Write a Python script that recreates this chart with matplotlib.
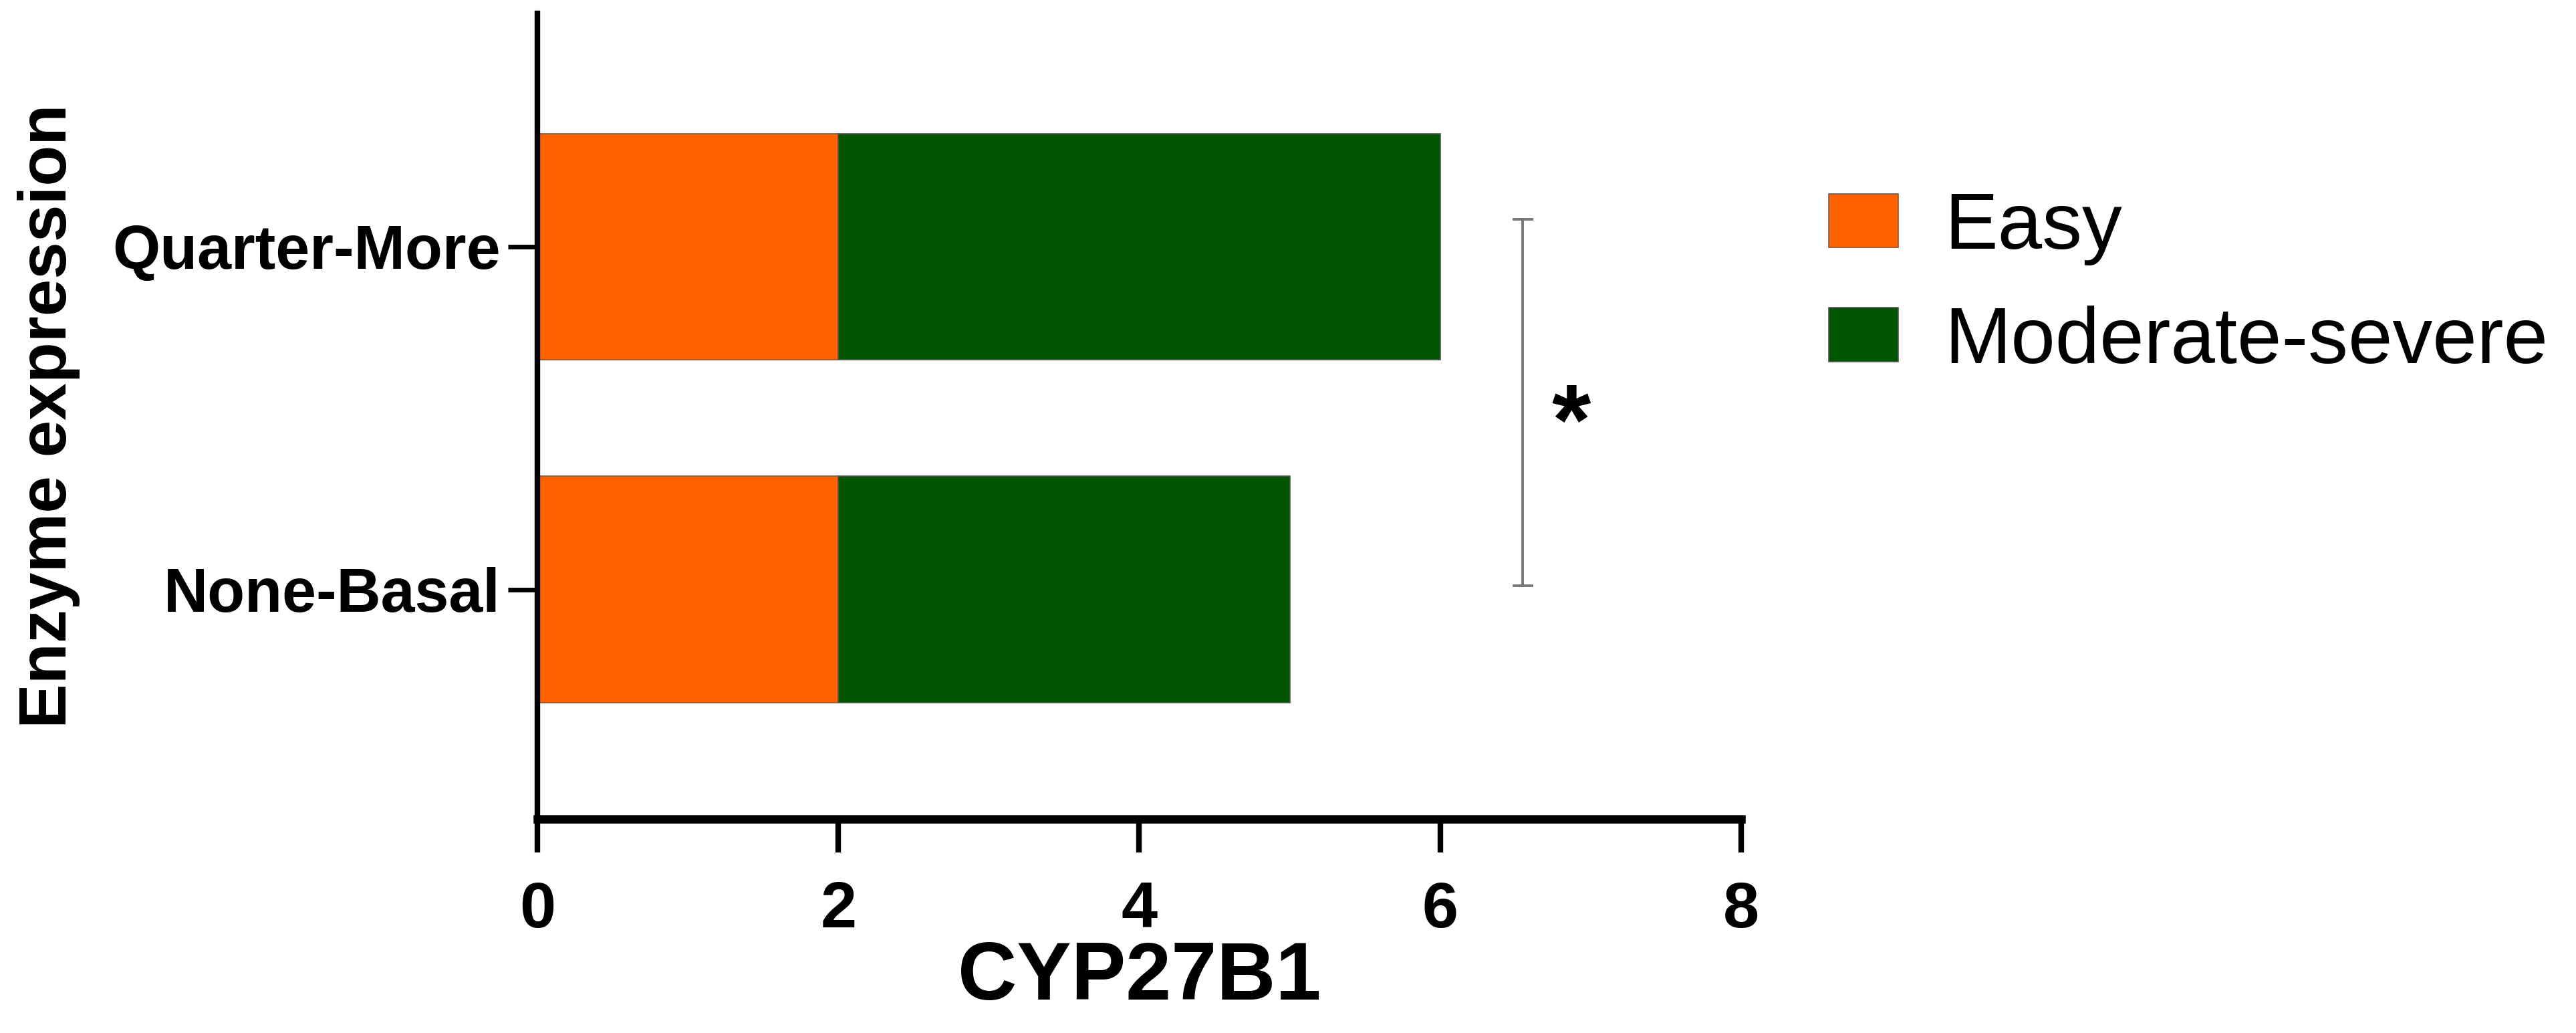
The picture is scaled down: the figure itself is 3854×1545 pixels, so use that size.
import matplotlib
matplotlib.use('Agg')
matplotlib.rcParams['font.family'] = ['Liberation Sans', 'DejaVu Sans']
import matplotlib.pyplot as plt
from matplotlib.patches import Patch

groups = ['None-Basal', 'Quarter-More']
easy = [2, 2]
moderate_severe = [3, 4]
series_names = ['Easy', 'Moderate-severe']
x_ticks = [0, 2, 4, 6, 8]

ORANGE = '#FF6000'
GREEN = '#005500'


def main():
    fig = plt.figure(figsize=(19.27, 7.725), dpi=200)
    ax = fig.add_axes([0.2086, 0.207, 0.4673, 0.780])

    pos = list(range(len(groups)))
    ax.barh(pos, easy, height=0.66, color=ORANGE, edgecolor='#7a5a40', linewidth=0.6)
    ax.barh(pos, moderate_severe, left=easy, height=0.66, color=GREEN,
            edgecolor='#555555', linewidth=0.6)

    ax.set_xlim(0, 8)
    ax.set_ylim(-0.67, 1.68)
    ax.set_xticks(x_ticks)
    ax.set_xticklabels([str(t) for t in x_ticks], fontsize=35, fontweight='bold')
    ax.set_yticks(pos)
    ax.set_yticklabels(groups, fontsize=33, fontweight='bold')

    for s in ('top', 'right'):
        ax.spines[s].set_visible(False)
    ax.spines['left'].set_linewidth(3)
    ax.spines['bottom'].set_linewidth(4.5)
    ax.tick_params(axis='x', length=18, width=3, pad=15)
    ax.tick_params(axis='y', length=16, width=2.5, pad=4)

    ax.set_xlabel('CYP27B1', fontsize=44, fontweight='bold', va='top')
    ax.xaxis.set_label_coords(0.5, -0.15)
    ax.set_ylabel('Enzyme expression', fontsize=36, fontweight='bold')
    ax.yaxis.set_label_coords(-0.38, 0.5)

    # significance bracket
    bx = 6.55
    ax.plot([bx, bx], [0.01, 1.08], color='#777777', lw=1.4, clip_on=False)
    ax.plot([bx - 0.06, bx + 0.06], [1.08, 1.08], color='#777777', lw=1.4, clip_on=False)
    ax.plot([bx - 0.06, bx + 0.06], [0.01, 0.01], color='#777777', lw=1.4, clip_on=False)
    ax.text(6.87, 0.47, '*', fontsize=54, fontweight='bold', ha='center', va='center')

    handles = [Patch(facecolor=ORANGE, edgecolor='#7a5a40', linewidth=0.6),
               Patch(facecolor=GREEN, edgecolor='#555555', linewidth=0.6)]
    fig.legend(handles, series_names, loc='upper left', bbox_to_anchor=(0.710, 0.815),
               frameon=False, fontsize=43, handlelength=0.865, handleheight=0.66,
               handletextpad=0.58, labelspacing=0.5, borderpad=0, borderaxespad=0)

    fig.savefig('out.png', dpi=200, facecolor='white')


if __name__ == '__main__':
    main()
